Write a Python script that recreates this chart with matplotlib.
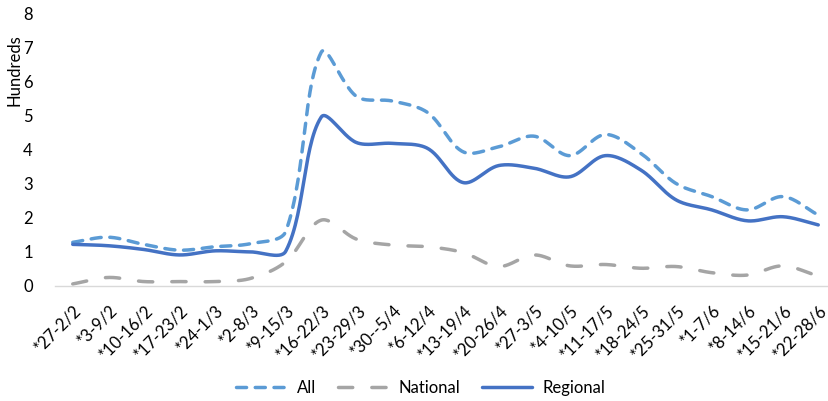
import numpy as np
import matplotlib
matplotlib.use("Agg")
import matplotlib.pyplot as plt

plt.rcParams['font.family'] = ['Lato', 'DejaVu Sans']

weeks = ['*27-2/2', '*3-9/2', '*10-16/2', '*17-23/2', '*24-1/3', '*2-8/3',
         '*9-15/3', '*16-22/3', '*23-29/3', '*30--5/4', '*6-12/4', '*13-19/4',
         '*20-26/4', '*27-3/5', '*4-10/5', '*11-17/5', '*18-24/5', '*25-31/5',
         '*1-7/6', '*8-14/6', '*15-21/6', '*22-28/6']

all_vals = [1.28, 1.43, 1.22, 1.05, 1.15, 1.24, 1.6, 6.85, 5.55, 5.42, 5.08, 3.93,
            4.08, 4.39, 3.82, 4.44, 3.89, 3.0, 2.62, 2.23, 2.62, 2.08]
national = [0.06, 0.25, 0.13, 0.13, 0.13, 0.22, 0.71, 1.93, 1.37, 1.2, 1.15, 0.98,
            0.57, 0.91, 0.59, 0.63, 0.52, 0.57, 0.39, 0.32, 0.59, 0.29]
regional = [1.22, 1.18, 1.07, 0.91, 1.03, 1.0, 1.02, 4.95, 4.2, 4.18, 4.03, 3.03,
            3.53, 3.45, 3.2, 3.82, 3.4, 2.52, 2.23, 1.91, 2.03, 1.79]


def smooth(x, y, n=30):
    # smoothed line like Excel: Bezier segments, tangents weighted by chord length
    p = np.column_stack([np.asarray(x, float), np.asarray(y, float)])
    m = len(p)
    tang = np.zeros_like(p)
    tang[1:-1] = p[2:] - p[:-2]
    d = np.linalg.norm(np.diff(p, axis=0), axis=1)
    t = np.linspace(0, 1, n)[:, None]
    xs, ys = [], []
    for i in range(m - 1):
        p0, p3 = p[i], p[i + 1]
        if 0 < i:
            w = d[i] / (d[i - 1] + d[i])
            c1 = p0 + tang[i] * w / 3
        else:
            c1 = p0 + (p3 - p0) / 3
        if i + 1 < m - 1:
            w = d[i] / (d[i] + d[i + 1])
            c2 = p3 - tang[i + 1] * w / 3
        else:
            c2 = p3 - (p3 - p0) / 3
        pts = ((1 - t) ** 3) * p0 + 3 * ((1 - t) ** 2) * t * c1 + 3 * (1 - t) * t ** 2 * c2 + t ** 3 * p3
        xs.append(pts[:, 0])
        ys.append(pts[:, 1])
    return np.concatenate(xs), np.concatenate(ys)


fig = plt.figure(figsize=(8.29, 4.01), dpi=100)
ax = fig.add_axes([55 / 829, 115 / 401, 781 / 829, 273 / 401])

x = np.arange(len(weeks))
sx, sy = smooth(x, all_vals)
ax.plot(sx, sy, color='#5B9BD5', lw=2.5, linestyle=(0, (2.9, 2.5)),
        dash_capstyle='round', label='All')
sx, sy = smooth(x, national)
ax.plot(sx, sy, color='#A5A5A5', lw=2.5, linestyle=(0, (4.1, 5.5)),
        dash_capstyle='round', label='National')
sx, sy = smooth(x, regional)
ax.plot(sx, sy, color='#4472C4', lw=2.5, solid_capstyle='round', label='Regional')

ax.set_xlim(-0.5, len(weeks) - 0.5)
ax.set_ylim(0, 8)
ax.set_yticks(range(0, 9))
ax.set_xticks(x)
ax.set_xticklabels(weeks, rotation=45, ha='right', rotation_mode='anchor')
ax.tick_params(axis='both', length=0, labelsize=12, colors='#000000')
ax.tick_params(axis='x', pad=12)
ax.tick_params(axis='y', pad=16)
for s in ['top', 'right', 'left']:
    ax.spines[s].set_visible(False)
ax.spines['bottom'].set_color('#D9D9D9')
ax.spines['bottom'].set_linewidth(1)
ax.set_ylabel('Hundreds', fontsize=12)
ax.yaxis.set_label_coords(-0.042, 0.79)

fig.legend(loc='center', bbox_to_anchor=(421 / 829, 1 - 388 / 401), ncol=3,
           frameon=False, fontsize=12, handlelength=3.0, columnspacing=1.3,
           handletextpad=0.65)

fig.savefig('out.png', dpi=100)
